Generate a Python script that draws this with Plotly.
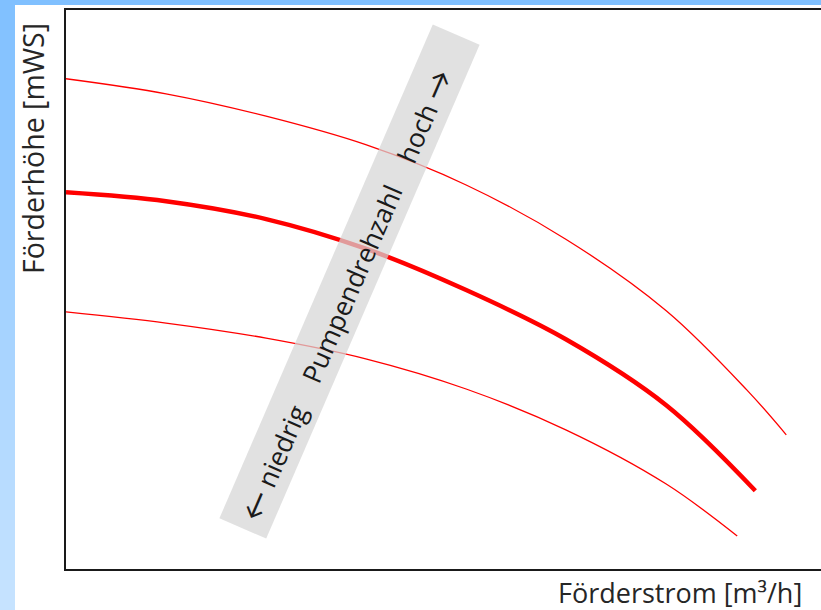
import math
import plotly.graph_objects as go

# ---- data ----
flow_high = [0, 13.25, 26.5, 39.7, 53.0, 66.2, 79.5, 90.2, 95.4]
head_high = [87.7, 85.0, 81.0, 75.9, 68.7, 59.0, 46.2, 32.0, 24.0]

flow_mid = [0, 13.25, 26.5, 39.7, 53.0, 66.2, 79.5, 91.3]
head_mid = [67.4, 65.8, 62.6, 57.3, 49.9, 41.1, 29.3, 14.0]

flow_low = [0, 13.25, 26.5, 39.7, 53.0, 66.2, 79.5, 88.9]
head_low = [46.0, 44.0, 41.3, 37.6, 32.2, 24.9, 15.2, 5.9]

x_title = "Förderstrom [m³/h]"
y_title = "Förderhöhe [mWS]"
arrow_style = "font-family:Lato;font-size:30px"
sp = "\u00a0" * 4
band_text = (f"<span style='{arrow_style}'>←</span> niedrig{sp}Pumpendrehzahl"
             f"{sp}hoch <span style='{arrow_style}'>→</span>")

# ---- layout geometry ----
W, H = 821, 610
ML, MR, MT, MB = 66, 0, 10, 41
PW = W - ML - MR
PH = H - MT - MB


def px_to_paper(px, py):
    return (px - ML) / PW, (H - MB - py) / PH


fig = go.Figure()

for xs, ys, w in [(flow_high, head_high, 1.3),
                  (flow_mid, head_mid, 4.5),
                  (flow_low, head_low, 1.3)]:
    fig.add_trace(go.Scatter(
        x=xs, y=ys, mode="lines",
        line=dict(color="#ff0000", width=w, shape="spline", smoothing=1.0),
        hoverinfo="skip", showlegend=False,
    ))

shapes = []
# blue slide background strips (gradient on the left)
n = 61
for i in range(n):
    py0 = i * H / n
    py1 = (i + 1) * H / n + 0.5
    t = i / (n - 1)
    r = int(round(128 + (198 - 128) * t))
    g = int(round(192 + (227 - 192) * t))
    col = f"rgb({r},{g},255)"
    x0, y0 = px_to_paper(0, py0)
    x1, y1 = px_to_paper(15, py1)
    shapes.append(dict(type="rect", xref="paper", yref="paper",
                       x0=x0, x1=x1, y0=y1, y1=y0, line=dict(width=0),
                       fillcolor=col, layer="below"))
x0, y0 = px_to_paper(0, 0)
x1, y1 = px_to_paper(W, 5)
shapes.append(dict(type="rect", xref="paper", yref="paper",
                   x0=x0, x1=x1, y0=y1, y1=y0, line=dict(width=0),
                   fillcolor="rgb(128,192,255)", layer="below"))

# rotated grey band
cx, cy = 349.5, 281.5
ux, uy = 213 / 537.0, -493 / 537.0
vx, vy = -uy, ux
hl, hw = 269, 25.5
corners = [
    (cx + hl * ux - hw * vx, cy + hl * uy - hw * vy),
    (cx + hl * ux + hw * vx, cy + hl * uy + hw * vy),
    (cx - hl * ux + hw * vx, cy - hl * uy + hw * vy),
    (cx - hl * ux - hw * vx, cy - hl * uy - hw * vy),
]
pts = [px_to_paper(a, b) for a, b in corners]
path = "M " + " L ".join(f"{a:.5f},{b:.5f}" for a, b in pts) + " Z"
shapes.append(dict(type="path", xref="paper", yref="paper", path=path,
                   fillcolor="rgb(214,214,214)", opacity=0.72,
                   line=dict(width=0), layer="above"))

annotations = []
tx, ty = px_to_paper(346, 295)
annotations.append(dict(text=band_text, x=tx, y=ty, xref="paper", yref="paper",
                        showarrow=False, textangle=-66.6,
                        xanchor="center", yanchor="middle",
                        font=dict(family="Open Sans", size=26.5, color="#1a1a1a")))
ax, ay = px_to_paper(33, 149)
annotations.append(dict(text=y_title, x=ax, y=ay, xref="paper", yref="paper",
                        showarrow=False, textangle=-90,
                        xanchor="center", yanchor="middle",
                        font=dict(family="Open Sans", size=28.5, color="#262626")))
bx, by = px_to_paper(804, 592)
annotations.append(dict(text=x_title, x=bx, y=by, xref="paper", yref="paper",
                        showarrow=False, xanchor="right", yanchor="middle",
                        font=dict(family="Open Sans", size=27, color="#262626")))

axis_common = dict(showgrid=False, zeroline=False, showticklabels=False,
                   ticks="", fixedrange=True)
fig.update_layout(
    width=W, height=H,
    margin=dict(l=ML, r=MR, t=MT, b=MB, pad=0),
    paper_bgcolor="white", plot_bgcolor="white",
    xaxis=dict(range=[0, 100], showline=True, linecolor="#1a1a1a",
               linewidth=2, mirror=True, **axis_common),
    yaxis=dict(range=[0, 100], showline=True, linecolor="#1a1a1a",
               linewidth=2, mirror=False, **axis_common),
    shapes=shapes,
    annotations=annotations,
    showlegend=False,
)

fig.write_html("out.html", config={"displayModeBar": False},
               post_script="document.body.style.margin='0';document.body.style.overflow='hidden';")
